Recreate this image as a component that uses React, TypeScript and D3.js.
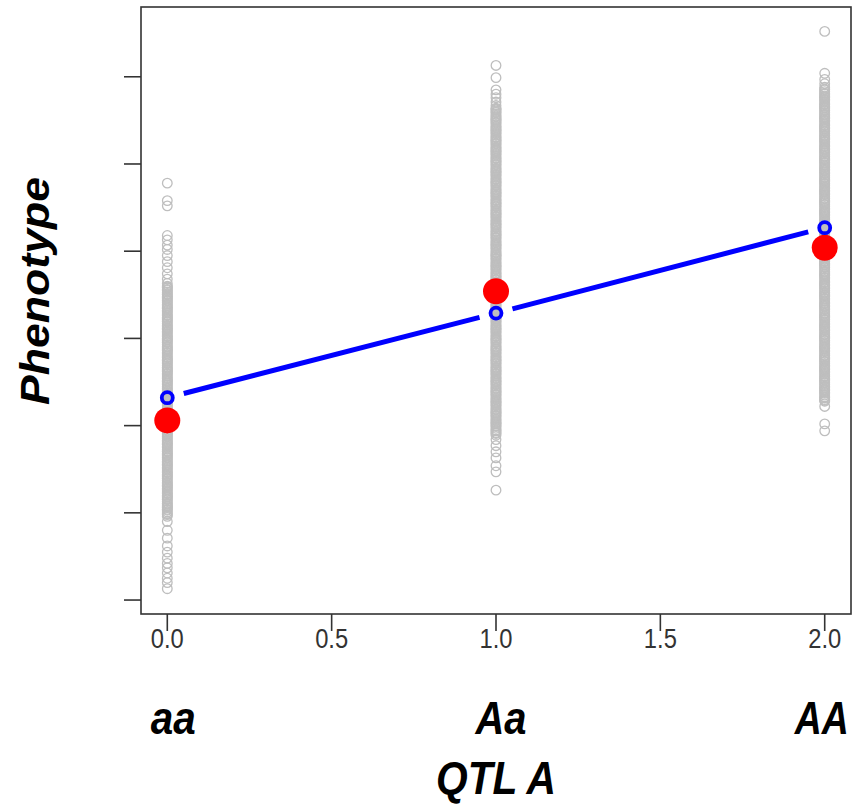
import React from "react";
import * as d3 from "d3";

// genotype codes on the x axis
const genotypeX = [0, 1, 2];
const genotypeLabels = ["aa", "Aa", "AA"];

const phenoAA_low = [
  1.78, 1.58, 1.52, 1.18, 1.13, 1.07, 1.02, 0.95, 0.88, 0.81, 0.74, 0.68, 0.63,
  0.6, 0.58, 0.55, 0.51, 0.48, 0.46, 0.43, 0.39, 0.36, 0.34, 0.31, 0.27, 0.24, 0.22, 0.19, 0.15,
  0.12, 0.1, 0.07, 0.03, 0.0, -0.02, -0.05, -0.09, -0.12, -0.14, -0.17, -0.21, -0.24, -0.26,
  -0.29, -0.33, -0.36, -0.38, -0.41, -0.45, -0.48, -0.5, -0.53, -0.57, -0.6, -0.62, -0.65,
  -0.69, -0.72, -0.74, -0.77, -0.81, -0.84, -0.86, -0.89, -0.93, -0.96, -0.98, -1.01, -1.05,
  -1.08, -1.1, -1.13, -1.17, -1.2, -1.22, -1.25, -1.29, -1.32, -1.34, -1.37, -1.41, -1.44,
  -1.46, -1.49, -1.53, -1.56, -1.58, -1.61, -1.65, -1.68, -1.7, -1.73, -1.77, -1.8, -1.82,
  -1.85, -1.89, -1.92, -1.94, -1.97, -2.01, -2.04,
  -2.1, -2.2, -2.29, -2.38, -2.45, -2.52, -2.58, -2.63, -2.69, -2.75, -2.8, -2.87,
  0.59, 0.56, 0.53, 0.5, 0.47, 0.44, 0.41, 0.38, 0.35, 0.32, 0.29, 0.26, 0.23, 0.2, 0.17, 0.14,
  0.11, 0.08, 0.05, 0.02, -0.01, -0.04, -0.07, -0.1, -0.13, -0.16, -0.19, -0.22, -0.25, -0.28,
  -0.31, -0.34, -0.37, -0.4, -0.43, -0.46, -0.49, -0.52, -0.55, -0.58, -0.61, -0.64, -0.67,
  -0.7, -0.73, -0.76, -0.79, -0.82, -0.85, -0.88, -0.91, -0.94, -0.97, -1.0, -1.03, -1.06,
  -1.09, -1.12, -1.15, -1.18, -1.21, -1.24, -1.27, -1.3, -1.33, -1.36, -1.39, -1.42, -1.45,
  -1.48, -1.51, -1.54, -1.57, -1.6, -1.63, -1.66, -1.69, -1.72, -1.75, -1.78, -1.81, -1.84,
  -1.87, -1.9, -1.93, -1.96, -1.99, -2.02,
];

const phenoAa = [
  3.13, 2.99, 2.85, 2.8, 2.76, 2.71, 2.67,
  2.64, 2.62, 2.59, 2.55, 2.52, 2.5, 2.47, 2.43, 2.4, 2.38, 2.35, 2.31, 2.28, 2.26, 2.23, 2.19,
  2.16, 2.14, 2.11, 2.07, 2.04, 2.02, 1.99, 1.95, 1.92, 1.9, 1.87, 1.83, 1.8, 1.78, 1.75, 1.71,
  1.68, 1.66, 1.63, 1.59, 1.56, 1.54, 1.51, 1.47, 1.44, 1.42, 1.39, 1.35, 1.32, 1.3, 1.27, 1.23,
  1.2, 1.18, 1.15, 1.11, 1.08, 1.06, 1.03, 0.99, 0.96, 0.94, 0.91, 0.87, 0.84, 0.82, 0.79, 0.75,
  0.72, 0.7, 0.67, 0.63, 0.6, 0.58, 0.55, 0.51, 0.48, 0.46, 0.43, 0.39, 0.36, 0.34, 0.31, 0.27,
  0.24, 0.22, 0.19, 0.15, 0.12, 0.1, 0.07, 0.03, 0.0, -0.02, -0.05, -0.09, -0.12, -0.14, -0.17,
  -0.21, -0.24, -0.26, -0.29, -0.33, -0.36, -0.38, -0.41, -0.45, -0.48, -0.5, -0.53, -0.57,
  -0.6, -0.62, -0.65, -0.69, -0.72, -0.74, -0.77, -0.81, -0.84, -0.86, -0.89, -0.93, -0.96,
  -0.98, -1.01, -1.05, -1.08, -1.11,
  -1.16, -1.23, -1.3, -1.37, -1.46, -1.53, -1.74,
  2.63, 2.6, 2.57, 2.54, 2.51, 2.48, 2.45, 2.42, 2.39, 2.36, 2.33, 2.3, 2.27, 2.24, 2.21, 2.18,
  2.15, 2.12, 2.09, 2.06, 2.03, 2.0, 1.97, 1.94, 1.91, 1.88, 1.85, 1.82, 1.79, 1.76, 1.73, 1.7,
  1.67, 1.64, 1.61, 1.58, 1.55, 1.52, 1.49, 1.46, 1.43, 1.4, 1.37, 1.34, 1.31, 1.28, 1.25, 1.22,
  1.19, 1.16, 1.13, 1.1, 1.07, 1.04, 1.01, 0.98, 0.95, 0.92, 0.89, 0.86, 0.83, 0.8, 0.77, 0.74,
  0.71, 0.68, 0.65, 0.62, 0.59, 0.56, 0.53, 0.5, 0.47, 0.44, 0.41, 0.38, 0.35, 0.32, 0.29, 0.26,
  0.23, 0.2, 0.17, 0.14, 0.11, 0.08, 0.05, 0.02, -0.01, -0.04, -0.07, -0.1, -0.13, -0.16, -0.19,
  -0.22, -0.25, -0.28, -0.31, -0.34, -0.37, -0.4, -0.43, -0.46, -0.49, -0.52, -0.55, -0.58,
  -0.61, -0.64, -0.67, -0.7, -0.73, -0.76, -0.79, -0.82, -0.85, -0.88, -0.91, -0.94, -0.97,
  -1.0, -1.03, -1.06, -1.09,
];

const phenoAA_high = [
  3.52, 3.04, 2.97, 2.92,
  2.88, 2.85, 2.81, 2.78, 2.76, 2.73, 2.69, 2.66, 2.64, 2.61, 2.57, 2.54, 2.52, 2.49, 2.45, 2.42,
  2.4, 2.37, 2.33, 2.3, 2.28, 2.25, 2.21, 2.18, 2.16, 2.13, 2.09, 2.06, 2.04, 2.01, 1.97, 1.94,
  1.92, 1.89, 1.85, 1.82, 1.8, 1.77, 1.73, 1.7, 1.68, 1.65, 1.61, 1.58, 1.56, 1.53, 1.49, 1.46,
  1.44, 1.41, 1.37, 1.34, 1.32, 1.29, 1.25, 1.22, 1.2, 1.17, 1.13, 1.1, 1.08, 1.05, 1.01, 0.98,
  0.96, 0.93, 0.89, 0.86, 0.84, 0.81, 0.77, 0.74, 0.72, 0.69, 0.65, 0.62, 0.6, 0.57, 0.53, 0.5,
  0.48, 0.45, 0.41, 0.38, 0.36, 0.33, 0.29, 0.26, 0.24, 0.21, 0.17, 0.14, 0.12, 0.09, 0.05, 0.02,
  0.0, -0.03, -0.07, -0.1, -0.12, -0.15, -0.19, -0.22, -0.24, -0.27, -0.31, -0.34, -0.36, -0.39,
  -0.43, -0.46, -0.48, -0.51, -0.55, -0.58, -0.6, -0.63, -0.67, -0.7, -0.72,
  -0.78, -0.98, -1.06,
  2.86, 2.83, 2.8, 2.77, 2.74, 2.71, 2.68, 2.65, 2.62, 2.59, 2.56, 2.53, 2.5, 2.47, 2.44, 2.41,
  2.38, 2.35, 2.32, 2.29, 2.26, 2.23, 2.2, 2.17, 2.14, 2.11, 2.08, 2.05, 2.02, 1.99, 1.96, 1.93,
  1.9, 1.87, 1.84, 1.81, 1.78, 1.75, 1.72, 1.69, 1.66, 1.63, 1.6, 1.57, 1.54, 1.51, 1.48, 1.45,
  1.42, 1.39, 1.36, 1.33, 1.3, 1.27, 1.24, 1.21, 1.18, 1.15, 1.12, 1.09, 1.06, 1.03, 1.0, 0.97,
  0.94, 0.91, 0.88, 0.85, 0.82, 0.79, 0.76, 0.73, 0.7, 0.67, 0.64, 0.61, 0.58, 0.55, 0.52, 0.49,
  0.46, 0.43, 0.4, 0.37, 0.34, 0.31, 0.28, 0.25, 0.22, 0.19, 0.16, 0.13, 0.1, 0.07, 0.04, 0.01,
  -0.02, -0.05, -0.08, -0.11, -0.14, -0.17, -0.2, -0.23, -0.26, -0.29, -0.32, -0.35, -0.38,
  -0.41, -0.44, -0.47, -0.5, -0.53, -0.56, -0.59, -0.62, -0.65, -0.68, -0.71,
];

const phenoByGenotype = [phenoAA_low, phenoAa, phenoAA_high];

// genotype means (red) and fitted additive regression values (blue)
const groupMeans = [-0.94, 0.54, 1.04];
const fittedValues = [-0.68, 0.29, 1.27];

const xTicks = [0, 0.5, 1, 1.5, 2];
const yTicks = [-3, -2, -1, 0, 1, 2, 3];

const W = 862;
const H = 805;

export default function App() {
  const x = d3.scaleLinear().domain([-0.08, 2.08]).range([141, 851]);
  const y = d3.scaleLinear().domain([-3.16, 3.8]).range([614, 7]);

  const [x0, x1] = x.range();
  const [yb, yt] = y.range();

  const gray = phenoByGenotype.flatMap((vals, i) =>
    vals.map((v) => ({ gx: genotypeX[i], v }))
  );

  // type = "b" style: segments between fitted points with a gap around each point
  const gap = 17;
  const segments = d3.pairs(genotypeX.map((g, i) => [x(g), y(fittedValues[i])])).map(
    ([a, b]) => {
      const dx = b[0] - a[0];
      const dy = b[1] - a[1];
      const len = Math.hypot(dx, dy);
      const ux = dx / len;
      const uy = dy / len;
      return {
        x1: a[0] + ux * gap,
        y1: a[1] + uy * gap,
        x2: b[0] - ux * gap,
        y2: b[1] - uy * gap,
      };
    }
  );

  const fmt = d3.format(".1f");
  const axisColor = "#333";

  return (
    <svg
      width={W}
      height={H}
      style={{ position: "absolute", left: 0, top: 0, background: "#fff" }}
    >
      {/* gray observations */}
      <g fill="none" stroke="#bebebe" strokeWidth={1.3}>
        {gray.map((d, i) => (
          <circle key={i} cx={x(d.gx)} cy={y(d.v)} r={4.8} />
        ))}
      </g>

      {/* genotype means */}
      <g fill="#ff0000">
        {groupMeans.map((m, i) => (
          <circle key={i} cx={x(genotypeX[i])} cy={y(m)} r={13} />
        ))}
      </g>

      {/* fitted line */}
      <g stroke="#0000ff" strokeWidth={5}>
        {segments.map((s, i) => (
          <line key={i} x1={s.x1} y1={s.y1} x2={s.x2} y2={s.y2} />
        ))}
      </g>
      <g fill="none" stroke="#0000ff" strokeWidth={3.8}>
        {fittedValues.map((f, i) => (
          <circle key={i} cx={x(genotypeX[i])} cy={y(f)} r={5.5} />
        ))}
      </g>

      {/* box */}
      <rect
        x={x0}
        y={yt}
        width={x1 - x0}
        height={yb - yt}
        fill="none"
        stroke={axisColor}
        strokeWidth={1.6}
      />

      {/* y ticks (no labels) */}
      <g stroke={axisColor} strokeWidth={1.6}>
        {yTicks.map((t) => (
          <line key={t} x1={x0 - 17} x2={x0} y1={y(t)} y2={y(t)} />
        ))}
      </g>

      {/* x ticks */}
      <g stroke={axisColor} strokeWidth={1.6}>
        {xTicks.map((t) => (
          <line key={t} x1={x(t)} x2={x(t)} y1={yb} y2={yb + 17} />
        ))}
      </g>
      <g
        fill="#333"
        fontFamily="Liberation Sans, Arial, sans-serif"
        fontSize={28}
        textAnchor="middle"
      >
        {xTicks.map((t) => (
          <text
            key={t}
            x={x(t)}
            y={648}
            textLength={33}
            lengthAdjust="spacingAndGlyphs"
          >
            {fmt(t)}
          </text>
        ))}
      </g>

      {/* genotype labels */}
      <g
        fill="#000"
        fontFamily="Liberation Sans, Arial, sans-serif"
        fontSize={47}
        fontWeight="bold"
        fontStyle="italic"
        textAnchor="middle"
      >
        {genotypeLabels.map((lab, i) => (
          <text
            key={lab}
            x={x(genotypeX[i]) + [6, 5, -3][i]}
            y={734}
            textLength={[45, 51, 54][i]}
            lengthAdjust="spacingAndGlyphs"
          >
            {lab}
          </text>
        ))}
        <text
          x={(x0 + x1) / 2}
          y={794}
          textLength={120}
          lengthAdjust="spacingAndGlyphs"
        >
          QTL A
        </text>
      </g>

      {/* y axis title */}
      <text
        transform={`translate(49, 291) rotate(-90)`}
        fill="#000"
        fontFamily="Liberation Sans, Arial, sans-serif"
        fontSize={40}
        fontWeight="bold"
        fontStyle="italic"
        textAnchor="middle"
        textLength={228}
        lengthAdjust="spacingAndGlyphs"
      >
        Phenotype
      </text>
    </svg>
  );
}
